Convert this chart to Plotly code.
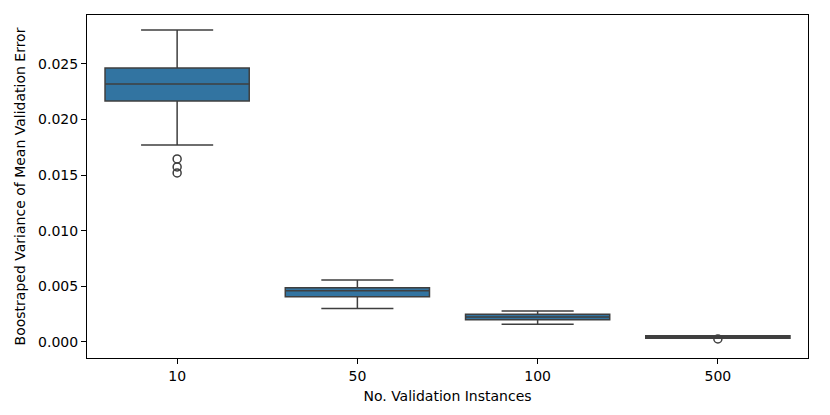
import plotly.graph_objects as go

categories = ["10", "50", "100", "500"]
q1 = [0.02167, 0.00407, 0.00201, 0.00033]
median = [0.0232, 0.00461, 0.00224, 0.00045]
q3 = [0.02464, 0.00488, 0.00249, 0.00057]
lowerfence = [0.01772, 0.00300, 0.00159, 0.00044]
upperfence = [0.02806, 0.00558, 0.00279, 0.00046]
outlier_x = ["10", "10", "10", "500"]
outlier_y = [0.01646, 0.01574, 0.01520, 0.00027]

line_col = "#3f3f3f"
fill_col = "#3274a1"

fig = go.Figure()
fig.add_trace(go.Box(
    x=categories, q1=q1, median=median, q3=q3,
    lowerfence=lowerfence, upperfence=upperfence,
    boxpoints=False, width=0.8, whiskerwidth=0.5,
    fillcolor=fill_col, line=dict(color=line_col, width=1.5),
    showlegend=False, hoverinfo="skip",
))
fig.add_trace(go.Scatter(
    x=outlier_x, y=outlier_y, mode="markers",
    marker=dict(symbol="circle-open", size=8, color=line_col, line=dict(width=1.5)),
    showlegend=False,
))

fnt = dict(family="DejaVu Sans", size=14, color="black")
fig.update_layout(
    width=822, height=407,
    margin=dict(l=79, r=22, t=7, b=57),
    paper_bgcolor="white", plot_bgcolor="white",
    font=fnt,
)
fig.update_xaxes(
    type="category", categoryorder="array", categoryarray=categories,
    range=[-0.5, 3.5], automargin=False,
    showline=True, mirror=True, linecolor="black", linewidth=1,
    ticks="outside", ticklen=5, tickcolor="black", tickfont=fnt,
    showgrid=False, zeroline=False,
    title=dict(text="No. Validation Instances", standoff=8, font=fnt),
)
fig.update_yaxes(
    range=[-0.00144, 0.0294], automargin=False,
    tickvals=[0, 0.005, 0.01, 0.015, 0.02, 0.025],
    tickformat=".3f",
    showline=True, mirror=True, linecolor="black", linewidth=1,
    ticks="outside", ticklen=5, tickcolor="black", tickfont=fnt,
    showgrid=False, zeroline=False,
    title=dict(text="Boostraped Variance of Mean Validation Error", standoff=9, font=fnt),
)

fig.write_html("out.html")
